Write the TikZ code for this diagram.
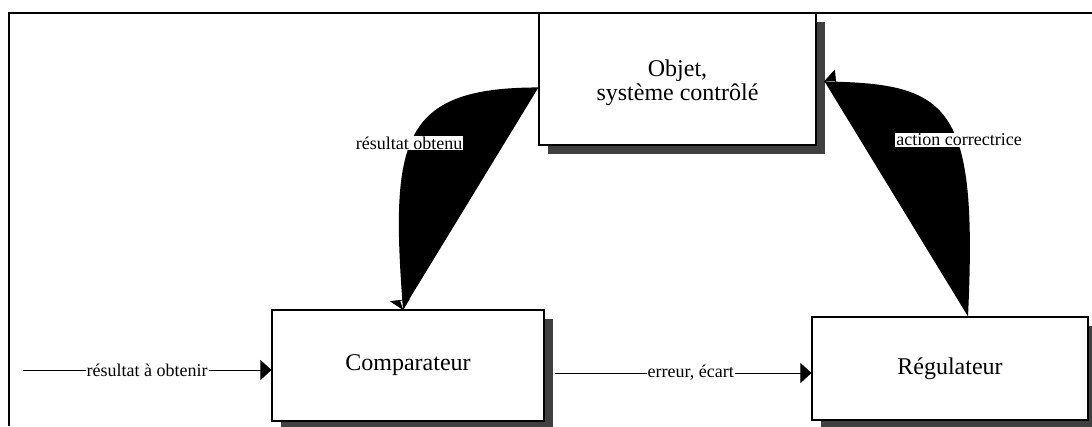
\documentclass[tikz,border=0pt]{standalone}
\usepackage{fontspec}
\setmainfont{Liberation Serif}
\usetikzlibrary{calc,arrows.meta,shadows}
\definecolor{shadowgray}{HTML}{404040}
\begin{document}
\begin{tikzpicture}[x=1pt,y=-1pt,
  block/.style={draw=black,line width=1.1pt,fill=white,inner sep=0pt,
    font=\fontsize{24}{24}\selectfont,align=center,
    drop shadow={shadow xshift=9pt,shadow yshift=-9pt,fill=shadowgray,opacity=1}},
  flowlabel/.style={fill=white,inner sep=1pt,font=\fontsize{18}{20}\selectfont},
  flow/.style={line width=0.9pt,-{Triangle[length=11pt,width=20pt]}},
  frameline/.style={line width=2pt},
  blob/.style={fill=black},
  headwhite/.style={fill=white,draw=black,line width=0.8pt},
]
\useasboundingbox (0,0) rectangle (1092,426);
\clip (0,0) rectangle (1092,426);

% the three blocks of the loop
\node[block,minimum width=277pt,minimum height=132pt] (obj) at (677.5,79)
  {\rule{0pt}{25pt}Objet,\\système contrôlé};
\node[block,minimum width=272pt,minimum height=111pt] (comp) at (408,365.5) {Comparateur};
\node[block,minimum width=276pt,minimum height=103pt] (reg) at (950,368.5) {Régulateur};

% straight connectors
\coordinate (in) at (23,370);
\draw[flow] (in) -- node[flowlabel]{résultat à obtenir} (in -| comp.west);
\coordinate (errstart) at ($(comp.east)+(10,7.5)$);
\draw[flow] (errstart) -- node[flowlabel,pos=0.53]{erreur, écart} (errstart -| reg.west);

% curved feedback connectors (filled)
\coordinate (objL) at ($(obj.north west)+(0,75)$);
\coordinate (compT) at ($(comp.north)+(-5,0)$);
\coordinate (objR) at ($(obj.north east)+(8,69)$);
\coordinate (regT) at ($(reg.north)+(18,0)$);

\filldraw[headwhite] (compT) -- +(-12,-8) -- +(6,-10) -- cycle;
\fill (compT) -- +(-12,-8) -- +(-3,-9) -- cycle;
\fill[blob] (objL) .. controls +(-138,0) and +(-13,-169) .. (compT) -- cycle;

\filldraw[headwhite] (objR) -- +(10,-11) -- +(12,10) -- cycle;
\fill (objR) -- +(10,-11) -- +(11,-0.5) -- cycle;
\fill[blob] (objR) .. controls +(126,2) and +(10,-212) .. (regT) -- cycle;

\node[flowlabel] (lobt) at (409,143) {résultat obtenu};
\node[flowlabel] (lact) at (959,140) {action correctrice};

% frame
\draw[frameline] (9,426) -- (9,13) -- (1092,13);
\end{tikzpicture}
\end{document}
